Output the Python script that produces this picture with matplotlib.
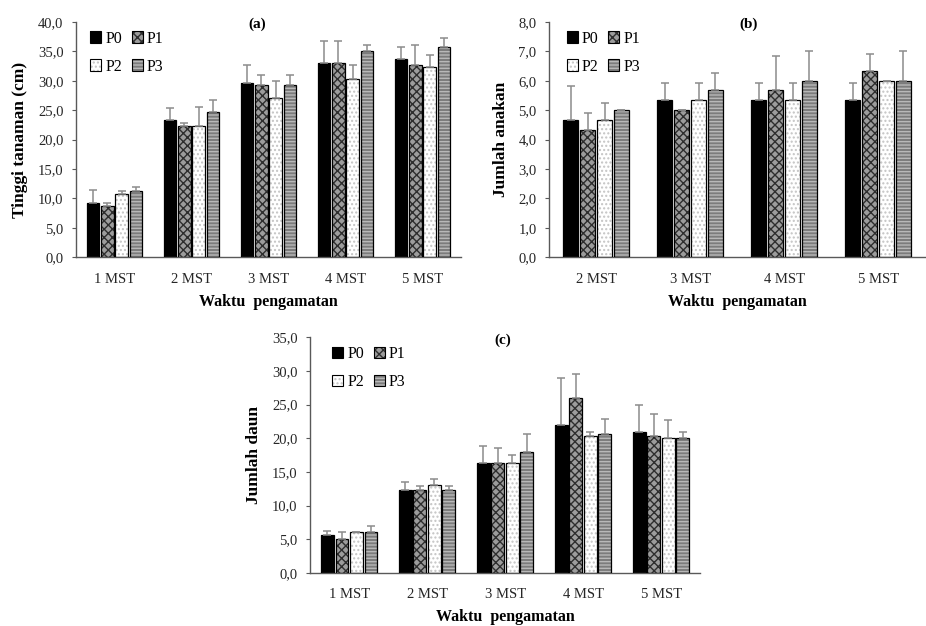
import numpy as np
import matplotlib
matplotlib.use("Agg")
import matplotlib.pyplot as plt
from matplotlib.patches import Patch
from matplotlib.ticker import FuncFormatter

plt.rcParams['font.family'] = ['Liberation Serif', 'DejaVu Serif']
plt.rcParams['hatch.linewidth'] = 1.0

series = ['P0', 'P1', 'P2', 'P3']

# (a) tinggi tanaman
cat_a = ['1 MST', '2 MST', '3 MST', '4 MST', '5 MST']
mean_a = {
    'P0': [9.3, 23.3, 29.7, 33.0, 33.7],
    'P1': [8.7, 22.3, 29.3, 33.0, 32.7],
    'P2': [10.7, 22.3, 27.0, 30.3, 32.3],
    'P3': [11.3, 24.7, 29.3, 35.0, 35.7],
}
err_a = {
    'P0': [2.1, 2.1, 3.0, 3.7, 2.1],
    'P1': [0.5, 0.5, 1.6, 3.7, 3.3],
    'P2': [0.6, 3.2, 3.0, 2.4, 2.1],
    'P3': [0.6, 2.0, 1.6, 1.1, 1.5],
}

# (b) jumlah anakan
cat_b = ['2 MST', '3 MST', '4 MST', '5 MST']
mean_b = {
    'P0': [4.67, 5.33, 5.33, 5.33],
    'P1': [4.33, 5.0, 5.67, 6.33],
    'P2': [4.67, 5.33, 5.33, 6.0],
    'P3': [5.0, 5.67, 6.0, 6.0],
}
err_b = {
    'P0': [1.16, 0.58, 0.58, 0.58],
    'P1': [0.58, 0.0, 1.16, 0.58],
    'P2': [0.58, 0.58, 0.58, 0.0],
    'P3': [0.0, 0.58, 1.0, 1.0],
}

# (c) jumlah daun
cat_c = ['1 MST', '2 MST', '3 MST', '4 MST', '5 MST']
mean_c = {
    'P0': [5.67, 12.3, 16.3, 22.0, 21.0],
    'P1': [5.0, 12.3, 16.3, 26.0, 20.3],
    'P2': [6.0, 13.0, 16.3, 20.3, 20.0],
    'P3': [6.0, 12.3, 18.0, 20.7, 20.0],
}
err_c = {
    'P0': [0.58, 1.2, 2.6, 7.0, 4.0],
    'P1': [1.0, 0.6, 2.2, 3.5, 3.3],
    'P2': [0.0, 1.0, 1.2, 0.6, 2.7],
    'P3': [1.0, 0.6, 2.7, 2.1, 1.0],
}

# face colour, hatch colour, hatch
styles = {
    'P0': ('black', 'black', None),
    'P1': ('#9c9c9c', '#2e2e2e', 'xxxx'),
    'P2': ('white', '#c4c4c4', '....'),
    'P3': ('#7c7c7c', '#b8b8b8', '-----'),
}

fmt = FuncFormatter(lambda v, p: ('%.1f' % v).replace('.', ','))


def panel(ax, cats, means, errs, ymax, step, title, title_x, ylabel, pitch, width, leg_anchor):
    x = np.arange(len(cats))
    handles = {}
    for i, s in enumerate(series):
        face, hc, h = styles[s]
        pos = x + (i - 1.5) * pitch
        vals = np.array(means[s])
        e = np.array(errs[s])
        ax.bar(pos, vals, width, color=face, edgecolor=hc, hatch=h, linewidth=0, zorder=2)
        ax.bar(pos, vals, width, fill=False, edgecolor='black', linewidth=0.9, zorder=3)
        ax.errorbar(pos, vals, yerr=[np.zeros_like(e), e], fmt='none', ecolor='#8c8c8c',
                    elinewidth=1.1, capsize=3, capthick=1.1, zorder=4)
        handles[s] = (Patch(facecolor=face, edgecolor=hc, hatch=h, linewidth=0),
                      Patch(fill=False, edgecolor='black', linewidth=0.8))
    ax.set_xlim(-0.5, len(cats) - 0.5)
    ax.set_ylim(0, ymax)
    ax.set_yticks(np.arange(0, ymax + step / 2, step))
    ax.yaxis.set_major_formatter(fmt)
    ax.set_xticks(x)
    ax.set_xticklabels(cats)
    ax.tick_params(axis='x', length=0, labelsize=10.5, pad=11, colors='#262626')
    ax.tick_params(axis='y', length=3, labelsize=10.5, pad=6, colors='#262626', color='#595959')
    for sp in ['top', 'right']:
        ax.spines[sp].set_visible(False)
    for sp in ['left', 'bottom']:
        ax.spines[sp].set_color('#595959')
        ax.spines[sp].set_linewidth(1.0)
    ax.set_xlabel('Waktu  pengamatan', fontsize=11.5, fontweight='bold', labelpad=6)
    ax.set_ylabel(ylabel, fontsize=12.5, fontweight='bold', labelpad=7)
    ax.text(title_x, 0.99, title, transform=ax.transAxes, ha='center', va='center',
            fontsize=11, fontweight='bold')
    order = ['P0', 'P2', 'P1', 'P3']
    ax.legend([handles[s] for s in order], order, ncol=2, loc='upper left',
              bbox_to_anchor=leg_anchor, frameon=False, fontsize=11.5, handlelength=0.7,
              handleheight=0.7, handletextpad=0.25, columnspacing=0.6, labelspacing=0.75,
              borderaxespad=0)


fig = plt.figure(figsize=(9.26, 6.26), dpi=100)
ax_a = fig.add_axes([0.082, 0.589, 0.416, 0.376])
ax_b = fig.add_axes([0.593, 0.589, 0.406, 0.376])
ax_c = fig.add_axes([0.335, 0.085, 0.421, 0.376])

panel(ax_a, cat_a, mean_a, err_a, 40, 5, '(a)', 0.47, 'Tinggi tanaman (cm)', 0.186, 0.165, (0.02, 0.99))
panel(ax_b, cat_b, mean_b, err_b, 8, 1, '(b)', 0.53, 'Jumlah anakan', 0.18, 0.155, (0.03, 0.99))
panel(ax_c, cat_c, mean_c, err_c, 35, 5, '(c)', 0.495, 'Jumlah daun', 0.186, 0.165, (0.04, 0.99))

fig.savefig('out.png', dpi=100)
